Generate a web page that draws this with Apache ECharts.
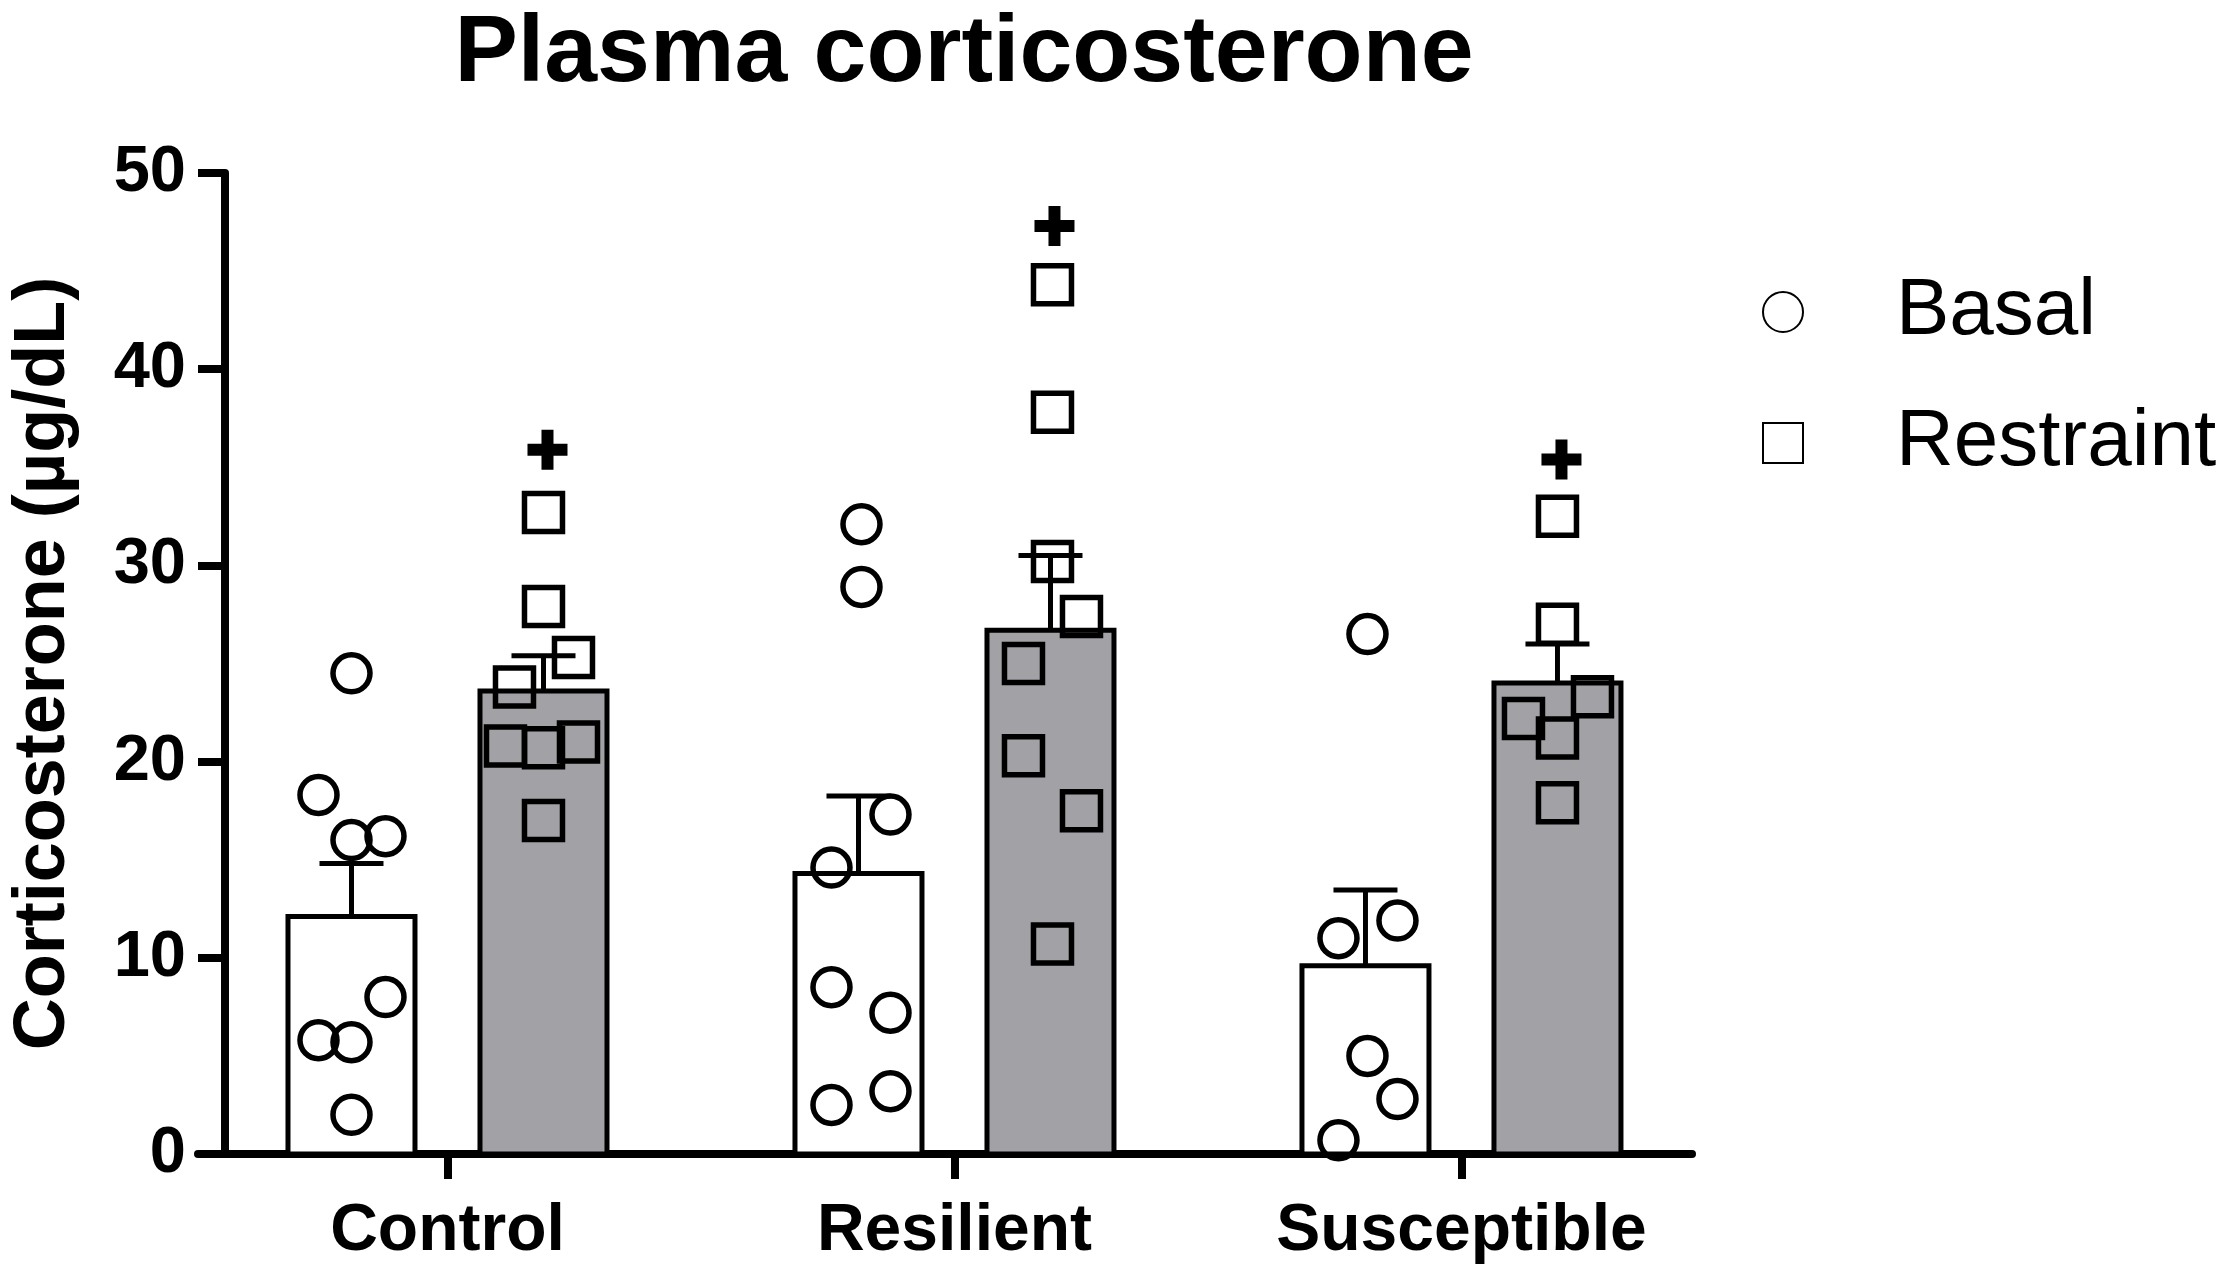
<!DOCTYPE html>
<html><head><meta charset="utf-8">
<script src="https://cdn.jsdelivr.net/npm/echarts@6/dist/echarts.min.js"></script>
<style>html,body{margin:0;padding:0;background:#fff}#c{width:2217px;height:1280px}</style>
</head><body><div id="c"></div>
<script>
// ---------- data ----------
const categories = ['Control', 'Resilient', 'Susceptible'];
const basalPoints = [
  [24.5, 18.3, 16.0, 16.2, 8.0, 5.8, 5.7, 2.0],
  [32.1, 28.9, 17.3, 14.6, 8.5, 7.2, 3.2, 2.5],
  [26.5, 11.9, 11.0, 5.0, 2.8, 0.7]
];
const restraintPoints = [
  [32.7, 27.9, 25.3, 23.8, 20.8, 20.7, 21.0, 17.0],
  [44.3, 37.8, 30.2, 27.4, 25.0, 20.3, 17.5, 10.7],
  [32.5, 27.0, 23.3, 22.2, 21.2, 17.9]
];
const basalMean = [12.1, 14.3, 9.6];
const basalSem = [2.7, 3.95, 3.85];
const restraintMean = [23.6, 26.7, 24.0];
const restraintSem = [1.8, 3.8, 2.0];
const plusMarkY = [35.9, 47.3, 35.4];
const seriesNames = ['Basal', 'Restraint'];

// ---------- layout / style (pixels) ----------
const basalJitter = [
  [0, -33, 0, 34, 34, -33, 0, 0],
  [3, 3, 32, -27, -27, 32, 32, -27],
  [2, 32, -27, 2, 32, -27]
];
const restraintJitter = [
  [0, 0, 30, -29, -38, 0, 35, 0],
  [2, 2, 2, 31, -27, -27, 31, 2],
  [0, 0, 35, -34, 0, 0]
];
const FONT = '"Liberation Sans", Arial, Helvetica, sans-serif';
const BAR_W = 127, BAR_SHIFT = 96, CAP = 64, LW = 5;
const GRAY = '#a2a2a6';

function barRender(shift, fill) {
  return function (params, api) {
    const i = api.value(0), m = api.value(1), s = api.value(2);
    const base = api.coord([i, 0]);
    const top = api.coord([i, m]);
    const eb = api.coord([i, m + s]);
    const cx = base[0] + shift;
    return {
      type: 'group',
      children: [
        { type: 'rect', shape: { x: cx - BAR_W / 2, y: top[1], width: BAR_W, height: base[1] - top[1] },
          style: { fill: fill, stroke: '#000', lineWidth: LW } },
        { type: 'line', shape: { x1: cx, y1: top[1], x2: cx, y2: eb[1] },
          style: { stroke: '#000', lineWidth: LW } },
        { type: 'line', shape: { x1: cx - CAP / 2, y1: eb[1], x2: cx + CAP / 2, y2: eb[1] },
          style: { stroke: '#000', lineWidth: LW } }
      ]
    };
  };
}

function pointData(groups, jitter, shift) {
  const out = [];
  groups.forEach((vals, i) => {
    vals.forEach((v, k) => {
      out.push({ value: [i, v], symbolOffset: [shift + jitter[i][k], 0] });
    });
  });
  return out;
}

const chart = echarts.init(document.getElementById('c'), null, { renderer: 'canvas' });
const option = {
  animation: false,
  backgroundColor: '#fff',
  title: {
    text: 'Plasma corticosterone',
    left: 959, top: 2, textAlign: 'center',
    textStyle: { fontFamily: FONT, fontSize: 95, fontWeight: 'bold', color: '#000' }
  },
  legend: {
    orient: 'vertical',
    left: 1762, top: 272,
    padding: 0,
    itemWidth: 40, itemHeight: 40, itemGap: 51,
    data: seriesNames,
    textStyle: { fontFamily: FONT, fontSize: 80, color: '#000', padding: [0, 0, 0, 88] }
  },
  grid: { left: 195, right: 525, top: 173, bottom: 126, containLabel: false },
  xAxis: {
    type: 'value',
    min: -0.4921, max: 2.4547,
    axisLine: { show: true, onZero: false, lineStyle: { color: '#000', width: 8 } },
    axisTick: { show: true, customValues: [0, 1, 2], length: 25, lineStyle: { color: '#000', width: 8 } },
    axisLabel: {
      show: true, customValues: [0, 1, 2], margin: 45,
      formatter: (v) => categories[Math.round(v)] || '',
      fontFamily: FONT, fontSize: 66, fontWeight: 'bold', color: '#000'
    },
    splitLine: { show: false }
  },
  yAxis: {
    type: 'value', min: 0, max: 50, interval: 10, offset: -27,
    axisLine: { show: true, onZero: false, lineStyle: { color: '#000', width: 8 } },
    axisTick: { show: true, length: 27, lineStyle: { color: '#000', width: 8 } },
    axisLabel: { margin: 39, fontFamily: FONT, fontSize: 65, fontWeight: 'bold', color: '#000' },
    splitLine: { show: false },
    name: 'Corticosterone (µg/dL)',
    nameLocation: 'middle', nameGap: 145, nameRotate: 90,
    nameTextStyle: { fontFamily: FONT, fontSize: 72, fontWeight: 'bold', color: '#000' }
  },
  series: [
    {
      name: 'Basal mean', type: 'custom', z: 1,
      renderItem: barRender(-BAR_SHIFT, '#fff'),
      encode: { x: 0, y: 1 },
      data: basalMean.map((m, i) => [i, m, basalSem[i]])
    },
    {
      name: 'Restraint mean', type: 'custom', z: 1,
      renderItem: barRender(BAR_SHIFT, GRAY),
      encode: { x: 0, y: 1 },
      data: restraintMean.map((m, i) => [i, m, restraintSem[i]])
    },
    {
      name: seriesNames[0], type: 'scatter', z: 3,
      symbol: 'circle', symbolSize: 37,
      itemStyle: { color: 'rgba(0,0,0,0)', borderColor: '#000', borderWidth: 5.5, opacity: 1 },
      data: pointData(basalPoints, basalJitter, -BAR_SHIFT)
    },
    {
      name: seriesNames[1], type: 'scatter', z: 3,
      symbol: 'rect', symbolSize: 38,
      itemStyle: { color: 'rgba(0,0,0,0)', borderColor: '#000', borderWidth: 5.5, opacity: 1 },
      data: pointData(restraintPoints, restraintJitter, BAR_SHIFT)
    },
    {
      name: 'significance', type: 'scatter', z: 4,
      symbol: 'path://M7,0h6v7h7v6h-7v7h-6v-7h-7v-6h7z', symbolSize: 40,
      symbolOffset: [BAR_SHIFT + 4, 0],
      itemStyle: { color: '#000', opacity: 1 },
      data: plusMarkY.map((v, i) => [i, v])
    }
  ]
};
chart.setOption(option);
</script>
</body></html>
